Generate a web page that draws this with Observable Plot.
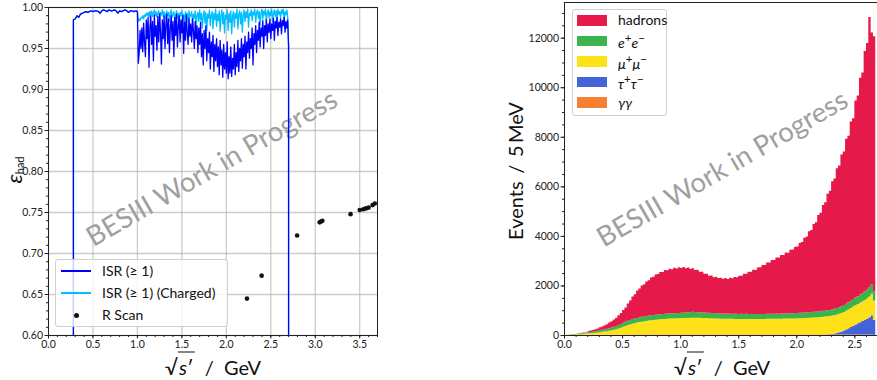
<!DOCTYPE html>
<html><head><meta charset="utf-8">
<script src="https://cdn.jsdelivr.net/npm/d3@7"></script>
<script src="https://cdn.jsdelivr.net/npm/@observablehq/plot@0.6"></script>
<style>
body{margin:0;background:#fff;}
#wrap{position:relative;width:877px;height:380px;overflow:hidden;font-family:Lato,"DejaVu Sans",sans-serif;color:#111;}
#wrap svg{position:absolute;top:0;}
.abs{position:absolute;white-space:nowrap;line-height:1;}
.lg{position:absolute;border:1px solid #d0d0d0;border-radius:3px;background:rgba(255,255,255,0.8);box-sizing:border-box;}
</style></head><body><div id="wrap"></div>
<script>
// ---------- Left panel data: hadronic efficiency ----------
const effXTicks = [0, 0.5, 1.0, 1.5, 2.0, 2.5, 3.0, 3.5];
const effYTicks = [0.60, 0.65, 0.70, 0.75, 0.80, 0.85, 0.90, 0.95, 1.00];
const isrEdges = [0.28, 2.70];           // efficiency falls to zero outside
const isrFlatStart = 0.28, isrFlatStep = 0.02;
const isrFlat = [0.985,
  0.986,0.990,0.988,0.992,0.993,0.994,0.995,0.994,0.995,0.996,
  0.995,0.996,0.996,0.995,0.993,0.996,0.997,0.996,0.995,0.997,
  0.996,0.996,0.997,0.996,0.993,0.996,0.995,0.996,0.997,0.996,
  0.994,0.996,0.996,0.995,0.996,0.995];
const isrNoisyStart = 1.01, isrNoisyStep = 0.01;
const isrAll = [
  0.932,0.945,0.972,0.950,0.975,0.946,0.981,0.958,0.940,0.985,
  0.962,0.988,0.927,0.975,0.990,0.955,0.983,0.935,0.991,0.965,
  0.978,0.948,0.989,0.958,0.992,0.970,0.931,0.985,0.962,0.990,
  0.950,0.980,0.992,0.956,0.986,0.945,0.975,0.990,0.960,0.983,
  0.940,0.988,0.966,0.992,0.952,0.978,0.990,0.958,0.985,0.969,
  0.990,0.944,0.982,0.960,0.991,0.970,0.955,0.987,0.965,0.980,
  0.958,0.986,0.972,0.950,0.983,0.962,0.978,0.945,0.975,0.955,
  0.982,0.940,0.968,0.930,0.972,0.950,0.978,0.935,0.962,0.945,
  0.970,0.925,0.958,0.940,0.966,0.922,0.955,0.935,0.962,0.928,
  0.952,0.918,0.960,0.930,0.948,0.915,0.955,0.925,0.945,0.920,
  0.958,0.913,0.940,0.920,0.952,0.916,0.938,0.925,0.955,0.918,
  0.945,0.928,0.960,0.922,0.950,0.935,0.962,0.926,0.955,0.940,
  0.965,0.925,0.958,0.945,0.970,0.938,0.962,0.950,0.975,0.930,
  0.968,0.955,0.978,0.945,0.972,0.960,0.982,0.952,0.975,0.965,
  0.984,0.950,0.978,0.966,0.985,0.958,0.980,0.970,0.986,0.962,
  0.980,0.972,0.987,0.960,0.983,0.975,0.988,0.966,0.982,0.976,
  0.986,0.968,0.984,0.978,0.988,0.970,0.983,0.975,0.985,0.952];
const isrCharged = [
  0.983,0.986,0.984,0.988,0.987,0.990,0.986,0.991,0.989,0.993,
  0.990,0.994,0.988,0.995,0.991,0.996,0.989,0.994,0.997,0.990,
  0.995,0.988,0.993,0.996,0.985,0.994,0.991,0.997,0.989,0.995,
  0.992,0.986,0.996,0.990,0.994,0.983,0.993,0.997,0.988,0.992,
  0.995,0.984,0.991,0.996,0.987,0.993,0.980,0.994,0.990,0.996,
  0.986,0.992,0.978,0.995,0.989,0.993,0.982,0.996,0.988,0.991,
  0.995,0.980,0.992,0.987,0.996,0.976,0.990,0.994,0.983,0.997,
  0.985,0.993,0.975,0.990,0.996,0.981,0.994,0.972,0.992,0.987,
  0.997,0.978,0.991,0.995,0.974,0.993,0.985,0.998,0.977,0.992,
  0.984,0.996,0.971,0.990,0.997,0.980,0.994,0.969,0.991,0.986,
  0.997,0.972,0.993,0.982,0.996,0.968,0.990,0.995,0.976,0.993,
  0.987,0.998,0.974,0.992,0.996,0.980,0.994,0.970,0.991,0.997,
  0.983,0.995,0.988,0.998,0.976,0.993,0.990,0.997,0.984,0.995,
  0.991,0.998,0.982,0.994,0.997,0.987,0.995,0.978,0.993,0.998,
  0.986,0.996,0.991,0.998,0.981,0.994,0.997,0.988,0.995,0.990,
  0.998,0.983,0.993,0.997,0.989,0.996,0.985,0.998,0.992,0.995,
  0.987,0.997,0.993,0.998,0.984,0.995,0.991,0.997,0.989,0.953];
const rScanX = [2.232, 2.397, 2.796, 3.050, 3.065, 3.080, 3.397, 3.500, 3.540, 3.570, 3.600, 3.645, 3.670];
const rScanY = [0.645, 0.673, 0.722, 0.738, 0.739, 0.740, 0.748, 0.753, 0.754, 0.755, 0.756, 0.759, 0.761];
const effLegend = ["ISR (\u2265 1)", "ISR (\u2265 1) (Charged)", "R Scan"];

// ---------- Right panel data: events per 5 MeV (read every 20 MeV) ----------
const histStart = 0.0, histStep = 0.02;
const evXTicks = [0, 0.5, 1.0, 1.5, 2.0, 2.5];
const evYTicks = [0, 2000, 4000, 6000, 8000, 10000, 12000];
const gg = [
  0,1,1,2,3,3,4,5,5,6, 7,7,8,8,9,10,10,11,11,12, 12,13,13,14,14,15,15,16,16,16,
  17,18,17,16,18,17,17,18,16,17, 17,16,18,17,17,18,17,16,17,18, 17,17,18,16,17,18,17,17,16,18,
  17,18,16,17,17,18,17,16,18,17, 16,17,18,17,17,16,18,17,17,18, 17,16,17,18,17,17,16,18,17,17,
  18,17,16,17,18,17,17,16,18,17, 17,18,17,16,17,18,17,17,16,18, 17,16,18,17,17,18,16,17,18,17,
  17,18,16,17,18,17,17,18,16,17, 17,18,17,15,0];
const tautau = [
  0,0,0,0,0,0,0,0,0,0, 0,0,0,0,0,0,0,0,0,0, 0,0,0,0,0,0,0,0,0,0, 0,0,0,0,0,0,0,0,0,0,
  0,0,0,0,0,0,0,0,0,0, 0,0,0,0,0,0,0,0,0,0, 0,0,0,0,0,0,0,0,0,0, 0,0,0,0,0,0,0,0,0,0,
  0,0,0,0,0,0,0,0,0,0, 0,0,0,0,0,0,0,0,0,0, 0,0,0,0,0,0,0,0,0,0,
  0,2,5,10,18,30,45,65,90,120, 160,205,255,305,360,410,455,500,545,590, 640,700,780,600,0];
const mumu = [
  2,5,9,13,18,24,30,37,44,52, 60,68,76,86,96,106,118,130,145,160,
  178,198,222,250,282,318,352,384,412,438, 462,484,504,522,538,552,565,577,588,598,
  607,616,624,631,638,644,650,655,659,663, 667,670,673,675,677,678,679,678,676,673,
  669,665,661,657,653,649,646,643,640,638, 636,634,633,632,631,630,630,629,629,629,
  629,629,630,630,631,632,633,634,635,636, 637,638,640,641,643,645,647,649,651,654,
  657,660,664,668,672,677,682,688,694,700, 707,714,720,726,732,737,741,745,748,751,
  754,757,760,764,768,773,779,786,794,804, 818,840,870,780,0];
const ee = [
  1,4,8,12,16,20,25,30,35,40, 45,50,58,65,70,78,85,90,96,102,
  110,120,130,140,150,160,168,176,182,188, 192,186,198,194,201,196,204,199,206,200,
  208,202,210,205,212,207,214,209,216,211, 218,212,224,230,238,242,235,226,220,215,
  218,212,216,210,214,209,213,208,212,207, 211,206,210,205,209,204,208,203,207,202,
  206,201,205,200,204,199,203,206,202,207, 204,209,206,211,208,213,210,215,212,218,
  215,221,218,224,222,228,226,232,230,236, 235,242,240,248,247,255,255,263,264,272,
  275,284,288,297,302,312,318,330,338,352, 362,378,392,360,0];
const hadrons = [
  0,2,3,5,6,8,10,12,15,18, 38,52,55,74,90,120,132,165,180,232,
  255,298,330,395,440,520,575,700,780,915, 975,1110,1160,1265,1290,1395,1420,1530,1545,1630,
  1630,1710,1690,1770,1745,1805,1770,1830,1790,1840, 1800,1845,1775,1800,1740,1755,1690,1710,1640,1645,
  1570,1575,1500,1515,1450,1470,1420,1445,1400,1435, 1400,1450,1425,1485,1470,1545,1535,1625,1615,1700,
  1700,1785,1775,1875,1880,1975,1975,2065,2075,2165, 2170,2260,2265,2355,2360,2450,2450,2560,2565,2670,
  2680,2815,2850,3020,3060,3260,3310,3540,3610,3890, 3980,4270,4370,4700,4810,5170,5260,5640,5720,6130,
  6200,6660,6720,7230,7300,7950,8100,8750,8900,9700, 9950,10900,10150,10300,0];
const seriesNames = ["\u03b3\u03b3", "\u03c4+\u03c4\u2212", "\u03bc+\u03bc\u2212", "e+e\u2212", "hadrons"]; // stacking order, bottom first
const seriesColors = ["#f58231", "#4363d8", "#ffe119", "#3cb44b", "#e6194b"];
const seriesValues = [gg, tautau, mumu, ee, hadrons];
const evLegendHTML = ["hadrons", "<i>e</i><sup>+</sup><i>e</i><sup>\u2212</sup>", "<i>\u03bc</i><sup>+</sup><i>\u03bc</i><sup>\u2212</sup>", "<i>\u03c4</i><sup>+</sup><i>\u03c4</i><sup>\u2212</sup>", "<i>\u03b3\u03b3</i>"];
const evLegendColors = ["#e6194b", "#3cb44b", "#ffe119", "#4363d8", "#f58231"];
const evYMax = 13440;
const watermark = "BESIII Work in Progress";

// ---------- build tables ----------
const flatPts = isrFlat.map((y, i) => ({x: isrFlatStart + isrFlatStep * i, y}));
const isrPts = [{x: isrEdges[0], y: 0}, ...flatPts,
  ...isrAll.map((y, i) => ({x: isrNoisyStart + isrNoisyStep * i, y})), {x: isrEdges[1], y: 0}];
const chgPts = [{x: isrEdges[0], y: 0}, ...flatPts,
  ...isrCharged.map((y, i) => ({x: isrNoisyStart + isrNoisyStep * i, y})), {x: isrEdges[1], y: 0}];
const rScan = rScanX.map((x, i) => ({x, y: rScanY[i]}));
const histRows = [];
for (let i = 0; i < hadrons.length; i++) {
  seriesNames.forEach((s, k) => histRows.push({x: histStart + histStep * i, s, n: seriesValues[k][i]}));
}

const baseStyle = {fontFamily: "Lato, 'DejaVu Sans', sans-serif", fontSize: "10.5px", background: "transparent", overflow: "visible", color: "#222"};
const r2 = v => Math.round(v * 1000) / 1000;

const left = Plot.plot({
  width: 400, height: 380,
  marginLeft: 48, marginRight: 23, marginTop: 7, marginBottom: 45,
  style: baseStyle,
  x: {domain: [0, 3.7]},
  y: {domain: [0.6, 1.0]},
  marks: [
    Plot.gridX(effXTicks, {stroke: "#b0b0b0", strokeOpacity: 0.65, strokeWidth: 1.3}),
    Plot.gridY(effYTicks, {stroke: "#b0b0b0", strokeOpacity: 0.65, strokeWidth: 1.3}),
    Plot.text([watermark], {text: d => d, frameAnchor: "middle", dx: -1, dy: -3, rotate: -30, fontSize: 27.5, fill: "#a0a0a0"}),
    Plot.line(chgPts, {x: "x", y: "y", stroke: "#00bfff", strokeWidth: 1.3, clip: true}),
    Plot.line(isrPts, {x: "x", y: "y", stroke: "#0000ff", strokeWidth: 1.3, clip: true}),
    Plot.dot(rScan, {x: "x", y: "y", r: 2.3, fill: "#111", stroke: null}),
    Plot.frame({stroke: "#222"}),
    Plot.axisX(d3.range(0, 3.71, 0.1).map(r2), {tickSize: 2, tickFormat: () => "", label: null}),
    Plot.axisX(effXTicks, {tickSize: 3.5, tickPadding: 1.5, tickFormat: d3.format(".1f"), label: null, fontSize: 10.5}),
    Plot.axisY(d3.range(0.6, 1.001, 0.01).map(r2), {tickSize: 2, tickFormat: () => "", label: null}),
    Plot.axisY(effYTicks, {tickSize: 3.5, tickPadding: 2, tickFormat: d3.format(".2f"), label: null, fontSize: 10.5})
  ]
});

const right = Plot.plot({
  width: 407, height: 380,
  marginLeft: 94, marginRight: 0, marginTop: 2, marginBottom: 45,
  style: baseStyle,
  x: {domain: [0, 2.695]},
  y: {domain: [0, evYMax]},
  color: {domain: seriesNames, range: seriesColors},
  marks: [
    Plot.areaY(histRows, {x: "x", y: "n", fill: "s", z: "s", curve: "step-after"}),
    Plot.text([watermark], {text: d => d, frameAnchor: "middle", dx: 1.5, dy: 0, rotate: -30, fontSize: 27.5, fill: "#a0a0a0"}),
    Plot.ruleY([0, evYMax], {stroke: "#222"}),
    Plot.ruleX([0], {stroke: "#222"}),
    Plot.axisX(d3.range(0, 2.69, 0.1).map(r2), {tickSize: 2, tickFormat: () => "", label: null}),
    Plot.axisX(evXTicks, {tickSize: 3.5, tickPadding: 1.5, tickFormat: d3.format(".1f"), label: null, fontSize: 10.5}),
    Plot.axisY(d3.range(0, 13001, 500), {tickSize: 2, tickFormat: () => "", label: null}),
    Plot.axisY(evYTicks, {tickSize: 3.5, tickPadding: 2, tickFormat: d => String(d), label: null, fontSize: 10.5})
  ]
});

const wrap = document.getElementById("wrap");
left.style.left = "0px";
right.style.left = "470px";
wrap.appendChild(left);
wrap.appendChild(right);

function addDiv(html, css, cls = "abs") {
  const d = document.createElement("div");
  d.className = cls;
  d.innerHTML = html;
  Object.assign(d.style, css);
  wrap.appendChild(d);
  return d;
}
const sqrtLabel = '<span style="font-size:21px">\u221a</span><span style="border-top:1.4px solid #111;padding:2px 1px 0 1px;"><i>s</i>\u2032</span>&nbsp; / &nbsp;GeV';
// axis titles
addDiv(sqrtLabel, {left: "213px", top: "366px", fontSize: "20px", transform: "translate(-50%,-50%)"});
addDiv(sqrtLabel, {left: "722px", top: "366px", fontSize: "20px", transform: "translate(-50%,-50%)"});
addDiv('<span style="font-size:22px;font-style:italic">\u03b5</span><span style="font-size:11px;position:relative;top:2px">had</span>',
  {left: "14px", top: "170px", transform: "translate(-50%,-50%) rotate(-90deg)"});
addDiv('Events &thinsp;/&thinsp; 5\u2009MeV', {left: "515px", top: "171px", fontSize: "20px", transform: "translate(-50%,-50%) rotate(-90deg)"});

// left legend
addDiv("", {left: "55px", top: "259px", width: "173px", height: "68px"}, "lg");
const effLegendRows = [271, 293, 315];
addDiv("", {left: "61px", top: (effLegendRows[0] - 0.7) + "px", width: "30px", height: "1.5px", background: "#0000ff"});
addDiv("", {left: "61px", top: (effLegendRows[1] - 0.7) + "px", width: "30px", height: "1.5px", background: "#00bfff"});
addDiv("", {left: "73.5px", top: (effLegendRows[2] - 2.5) + "px", width: "5px", height: "5px", borderRadius: "50%", background: "#111"});
effLegend.forEach((t, i) => addDiv(t, {left: "102px", top: effLegendRows[i] + "px", fontSize: "14px", transform: "translateY(-50%)"}));

// right legend
addDiv("", {left: "572px", top: "9px", width: "95px", height: "107px"}, "lg");
const evRows = [20.3, 40.9, 61.5, 82.1, 102.7];
evLegendHTML.forEach((t, i) => {
  addDiv("", {left: "577px", top: (evRows[i] - 5.3) + "px", width: "30px", height: "10.6px", background: evLegendColors[i]});
  addDiv(t, {left: "618px", top: evRows[i] + "px", fontSize: "14px", transform: "translateY(-50%)"});
});
</script>
</body></html>
